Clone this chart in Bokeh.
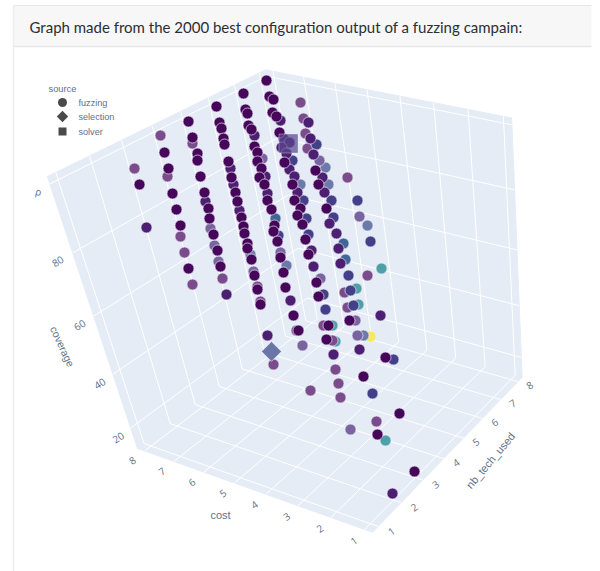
import numpy as np
from bokeh.plotting import figure
from bokeh.models import Range1d
from bokeh.core.properties import value
from bokeh.embed import file_html
from bokeh.resources import INLINE

title_text = "Graph made from the 2000 best configuration output of a fuzzing campain:"
cost_ticks = [1, 2, 3, 4, 5, 6, 7, 8]
tech_ticks = [1, 2, 3, 4, 5, 6, 7, 8]
coverage_ticks = [20, 40, 60, 80]
legend_names = ["fuzzing", "selection", "solver"]

# Marks as projected on the picture plane of the 3D view, one pair of arrays per colour tone
tone_d = [(266,80),(243,93),(216,106),(188,121),(269,96),(273,99),(272,112),(276,116),(279,132),(245,109),(247,113),(248,125),(251,129),(254,146),(257,152),(257,161),(261,168),(259,177),(264,184),(267,200),
          (219,122),(221,128),(223,138),(224,144),(228,161),(231,177),(235,192),(237,201),(241,217),(243,226),(244,233),(247,243),(247,248),(251,259),(254,275),(257,289),(260,304),
          (192,137),(197,153),(197,160),(200,176),(204,192),(208,208),(209,218),(213,234),(217,250),(220,266),
          (164,152),(168,168),(172,193),(176,209),(180,225),(188,268),(139,184),
          (271,209),(274,225),(273,231),(277,241),(280,257),(283,272),(285,287),
          (294,200),(300,208),(297,215),(302,224),(305,239),(308,254),(316,282),(318,296),(293,315),(284,162),(292,184),(315,170),(318,184),(326,208),
          (298,330),(349,320),(328,325),(326,339),(385,357),(363,376),(399,413),(377,434),(414,471)]
tone_b = [(280,120),(254,135),(230,168),(233,184),(239,210),(205,201),(146,227),(267,193),(226,294),(308,122),(310,138),(313,154),(322,177),(324,192),(329,223),(336,233),(338,248),(340,263),
          (283,138),(289,142),(281,147),(286,153),(289,169),(294,176),(297,192),(311,250),(313,266),(380,315),(333,354),(359,349),(267,335),(392,493),(290,300),(265,176)]
tone_f = [(316,144),(292,160),(303,200),(331,200),(357,200),(333,217),(306,218),(370,241),(308,234),(278,235),(348,275),(350,290),(323,294),(353,305),(325,309),(393,359),(372,393)]
tone_blue = [(343,243),(345,259),(275,218)]
tone_e = [(325,167),(328,184),(300,184),(367,225),(286,265),(363,335),(250,254)]
tone_lav = [(262,158),(319,160),(359,216),(210,228),(214,245),(218,261),(280,252),(320,278),(253,271),(302,345),(357,335),(355,320),(350,429)]
tone_c = [(160,135),(192,143),(167,176),(134,168),(180,236),(184,252),(192,284),(222,278),(300,102),(303,118),(305,133),(307,148),(347,177),(367,275),(344,292),(347,307),(323,325),(332,340),(296,330),(335,369),(338,383),(340,397),(310,390),(376,421),(273,364),(257,286),(260,301)]
tone_teal = [(381,268),(356,288),(358,304),(332,325),(335,341),(385,440)]
tone_yellow = [(370,336)]
selection_mark = [(271,351)]
solver_mark = [(288,143)]

# Ranges of the 3D box
COST_LO, COST_HI = 0.77, 8.25
TECH_LO, TECH_HI = 0.76, 8.25
COV_LO, COV_HI = 12.0, 102.0

# Calibration of the view: box corners in the scene and where they sit on the page
box_3d = [(COST_HI,TECH_LO,COV_LO),(COST_LO,TECH_LO,COV_LO),(COST_LO,TECH_HI,COV_LO),(COST_HI,TECH_HI,COV_LO),
          (COST_HI,TECH_LO,COV_HI),(COST_LO,TECH_HI,COV_HI),(COST_HI,TECH_HI,COV_HI)]
box_2d = [(136,447),(373,532),(521,377),(311,317),(47,177),(511,117),(265,69)]

def fit_camera(a, b):
    rows = []
    for (x, y, z), (u, v) in zip(a, b):
        rows.append([x,y,z,1,0,0,0,0,-u*x,-u*y,-u*z,-u])
        rows.append([0,0,0,0,x,y,z,1,-v*x,-v*y,-v*z,-v])
    return np.linalg.svd(np.array(rows, float))[2][-1].reshape(3, 4)

CAM = fit_camera(box_3d, box_2d)

def project(x, y, z):
    q = CAM @ np.array([x, y, z, 1.0])
    return q[0]/q[2], q[1]/q[2]

def segment(a, b):
    pa, pb = project(*a), project(*b)
    return [pa[0], pb[0]], [pa[1], pb[1]]

p = figure(width=600, height=571, x_range=Range1d(0, 600), y_range=Range1d(571, 0),
           output_backend="svg", toolbar_location=None, min_border=0, outline_line_color=None)
p.axis.visible = False
p.grid.visible = False
p.background_fill_color = "white"

# Card
p.quad(left=[13], right=[591], top=[5], bottom=[46], fill_color="#f7f7f7", line_color=None)
p.line([13, 591], [46, 46], line_color="#e6e6e6", line_width=1.5)
p.line([13, 591], [5, 5], line_color="#e6e6e6", line_width=1)
p.line([13, 13], [5, 571], line_color="#eeeeee", line_width=1.5)
p.text([29], [26], text=[title_text], text_font=value("Lato"), text_font_size="15px",
       text_color="#2b2f33", text_baseline="middle")

# Walls
WALL = "#e5ecf6"
walls = [[(COST_HI,TECH_LO,COV_LO),(COST_LO,TECH_LO,COV_LO),(COST_LO,TECH_HI,COV_LO),(COST_HI,TECH_HI,COV_LO)],
         [(COST_HI,TECH_LO,COV_LO),(COST_HI,TECH_HI,COV_LO),(COST_HI,TECH_HI,COV_HI),(COST_HI,TECH_LO,COV_HI)],
         [(COST_HI,TECH_HI,COV_LO),(COST_LO,TECH_HI,COV_LO),(COST_LO,TECH_HI,COV_HI),(COST_HI,TECH_HI,COV_HI)]]
for w in walls:
    pts = [project(*c) for c in w]
    p.patch([q[0] for q in pts], [q[1] for q in pts], fill_color=WALL, line_color=WALL)

# Grid lines
gx, gy = [], []
for c in cost_ticks:
    for a, b in [((c,TECH_LO,COV_LO),(c,TECH_HI,COV_LO)), ((c,TECH_HI,COV_LO),(c,TECH_HI,COV_HI))]:
        sx, sy = segment(a, b); gx.append(sx); gy.append(sy)
for t in tech_ticks:
    for a, b in [((COST_LO,t,COV_LO),(COST_HI,t,COV_LO)), ((COST_HI,t,COV_LO),(COST_HI,t,COV_HI))]:
        sx, sy = segment(a, b); gx.append(sx); gy.append(sy)
for z in coverage_ticks + [100]:
    for a, b in [((COST_HI,TECH_LO,z),(COST_HI,TECH_HI,z)), ((COST_HI,TECH_HI,z),(COST_LO,TECH_HI,z))]:
        sx, sy = segment(a, b); gx.append(sx); gy.append(sy)
p.multi_line(gx, gy, line_color="white", line_width=1)

# Marks
def draw(points, color):
    p.scatter([q[0] for q in points], [q[1] for q in points], size=11, marker="circle",
              fill_color=color, line_color="#eef0f6", line_width=0.8, line_alpha=0.85)

for pts, col in [(tone_yellow, "#f6e95c"), (tone_teal, "#4f9fa9"), (tone_e, "#6b7aaa"), (tone_lav, "#7a649f"),
                 (tone_c, "#7b4c8c"), (tone_blue, "#3f6695"), (tone_f, "#433f88"), (tone_b, "#4d1f73"), (tone_d, "#46075a")]:
    draw(pts, col)

p.scatter([q[0] for q in solver_mark], [q[1] for q in solver_mark], marker="square", size=19,
          fill_color="#5a4a90", fill_alpha=0.72, line_color="#eef0f6", line_alpha=0.6, line_width=0.6)
p.scatter([q[0] for q in selection_mark], [q[1] for q in selection_mark], marker="square", size=14, angle=45, angle_units="deg",
          fill_color="#6a75a8", line_color="#eef0f6", line_width=0.6)

# Tick labels
TICK = "#5f7088"
def labels(items, angle, size="10px"):
    xs, ys, ts = zip(*items)
    p.text(list(xs), list(ys), text=list(ts), text_font=value("Open Sans"), text_font_size=size,
           text_color=TICK, text_align="center", text_baseline="middle", angle=angle, angle_units="deg")

labels([(*project(c, TECH_LO-0.45, COV_LO), str(c)) for c in cost_ticks], 35)
labels([(*project(COST_LO-0.38, t, COV_LO), str(t)) for t in tech_ticks], 35)
labels([(*project(COST_HI, TECH_LO-0.45, z), str(z)) for z in coverage_ticks], 32)
p.text([38], [191], text=["ρ"], text_font=value("Open Sans"), text_font_size="10px", text_color=TICK,
       text_align="center", text_baseline="middle", angle=-12, angle_units="deg")

# Axis titles
for x, y, t, a, s in [(220, 514, "cost", 0, "11px"), (62, 346, "coverage", -65, "10.5px"), (490, 460, "nb_tech_used", 50, "11px")]:
    p.text([x], [y], text=[t], text_font=value("Liberation Sans"), text_font_size=s, text_color=TICK,
           text_align="center", text_baseline="middle", angle=a, angle_units="deg")

# Legend
p.text([48], [88], text=["source"], text_font=value("Liberation Sans"), text_font_size="9.3px",
       text_color=TICK, text_baseline="middle")
for name, marker, y, s, ang in zip(legend_names, ["circle", "square", "square"], [102, 116, 131], [9, 8, 8], [0, 45, 0]):
    p.scatter([62], [y], marker=marker, size=s, angle=ang, angle_units="deg", fill_color="#4a4a4a", line_color=None)
    p.text([78], [y], text=[name], text_font=value("Liberation Sans"), text_font_size="9.1px",
           text_color=TICK, text_baseline="middle")

open("out.html", "w").write(file_html(p, INLINE))
